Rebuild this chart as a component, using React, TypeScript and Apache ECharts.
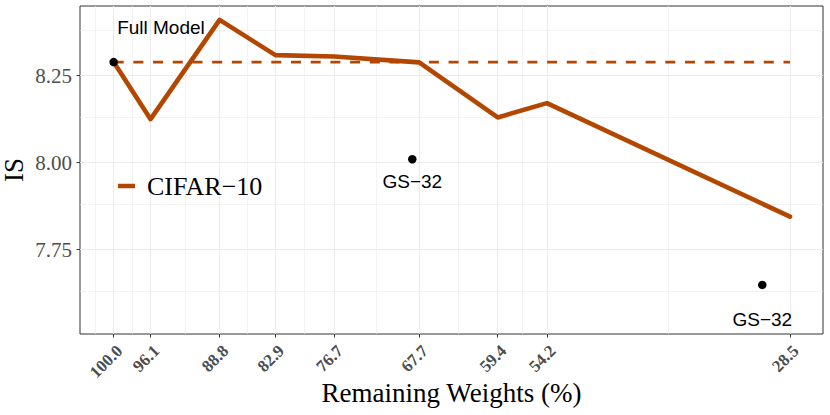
import React, { useEffect, useRef } from "react";
import * as echarts from "echarts";

const remainingWeights = [100, 96.1, 88.8, 82.9, 76.7, 67.7, 59.4, 54.2, 28.5];
const isScores = [8.289, 8.125, 8.41, 8.309, 8.305, 8.288, 8.13, 8.171, 7.845];
const fullModelIS = 8.289;

const markerX = [100, 68.43, 31.43];
const markerY = [8.289, 8.01, 7.649];

const annotationText = ["Full Model", "GS\u221232", "GS\u221232"];
const annotationX = [95.0, 68.43, 31.43];
const annotationY = [8.3885, 7.947, 7.549];

const xTicks = [100, 96.1, 88.8, 82.9, 76.7, 67.7, 59.4, 54.2, 28.5];
const yTicks = [7.75, 8.0, 8.25];
const xMinor = [101.95, 98.05, 92.45, 85.85, 79.8, 72.2, 63.55, 56.8, 41.35];
const yMinor = [7.625, 7.875, 8.125, 8.375];

const seriesName = "CIFAR\u221210";
const LINE_COLOR = "#B34700";
const SERIF = "'Liberation Serif', 'Times New Roman', serif";
const SANS = "'Liberation Sans', Arial, sans-serif";

export default function App() {
  const ref = useRef<HTMLDivElement>(null);

  useEffect(() => {
    document.body.style.margin = "0";
    if (!ref.current) return;
    const chart = echarts.init(ref.current, null, { renderer: "svg" });

    const gridMajor = { color: "#EBEBEB", width: 1.1, type: "solid" };
    const gridMinor = { color: "#EBEBEB", width: 0.6, type: "solid" };

    const markLineData: any[] = [
      ...xMinor.map((v) => ({ xAxis: v, lineStyle: gridMinor })),
      ...yMinor.map((v) => ({ yAxis: v, lineStyle: gridMinor })),
      ...xTicks.map((v) => ({ xAxis: v, lineStyle: gridMajor })),
      ...yTicks.map((v) => ({ yAxis: v, lineStyle: gridMajor })),
    ];

    chart.setOption({
      animation: false,
      backgroundColor: "#FFFFFF",
      grid: {
        left: 80,
        right: 7,
        top: 6,
        bottom: 81,
        show: true,
        containLabel: false,
        outerBoundsMode: "none",
        borderColor: "#333333",
        borderWidth: 1,
        backgroundColor: "transparent",
      },
      legend: {
        show: true,
        left: 118,
        top: 173,
        padding: 0,
        selectedMode: false,
        icon: "rect",
        itemWidth: 17,
        itemHeight: 4.5,
        data: [seriesName],
        textStyle: {
          fontFamily: SERIF,
          fontSize: 26,
          color: "#000000",
          padding: [0, 0, 0, 7],
        },
      },
      xAxis: {
        type: "value",
        min: 25.01,
        max: 103.56,
        inverse: true,
        name: "Remaining Weights (%)",
        nameLocation: "middle",
        nameGap: 45,
        nameMoveOverlap: false,
        nameTextStyle: { fontFamily: SERIF, fontSize: 27, color: "#000000" },
        axisLine: { show: false },
        splitLine: { show: false },
        axisTick: {
          show: true,
          customValues: xTicks,
          length: 3.5,
          lineStyle: { color: "#333333", width: 1 },
        },
        axisLabel: {
          show: true,
          customValues: xTicks,
          rotate: 45,
          align: "right",
          verticalAlign: "top",
          margin: 8,
          formatter: (v: number) => v.toFixed(1),
          fontFamily: SERIF,
          fontWeight: "bold",
          fontSize: 17,
          color: "#4D4D4D",
        },
      },
      yAxis: {
        type: "value",
        min: 7.508,
        max: 8.45,
        name: "IS",
        nameLocation: "middle",
        nameGap: 53,
        nameMoveOverlap: false,
        nameTextStyle: { fontFamily: SERIF, fontSize: 27, color: "#000000" },
        axisLine: { show: false },
        splitLine: { show: false },
        axisTick: {
          show: true,
          customValues: yTicks,
          length: 3.5,
          lineStyle: { color: "#333333", width: 1 },
        },
        axisLabel: {
          show: true,
          customValues: yTicks,
          margin: 8,
          formatter: (v: number) => v.toFixed(2),
          fontFamily: SERIF,
          fontSize: 21,
          color: "#4D4D4D",
        },
      },
      series: [
        {
          name: "grid",
          type: "line",
          data: [],
          z: 1,
          silent: true,
          markLine: {
            silent: true,
            z: 1,
            symbol: ["none", "none"],
            label: { show: false },
            animation: false,
            data: markLineData,
          },
        },
        {
          name: seriesName,
          type: "line",
          z: 3,
          data: remainingWeights
            .filter((_, i) => i === 0 || i === remainingWeights.length - 1)
            .map((x) => [x, fullModelIS]),
          showSymbol: false,
          symbol: "none",
          color: LINE_COLOR,
          lineStyle: { color: LINE_COLOR, width: 2.7, type: [10, 9.7] },
        },
        {
          name: seriesName,
          type: "line",
          z: 4,
          data: remainingWeights.map((x, i) => [x, isScores[i]]),
          showSymbol: false,
          symbol: "none",
          color: LINE_COLOR,
          lineStyle: { color: LINE_COLOR, width: 4.6, join: "round", cap: "round" },
        },
        {
          name: "markers",
          type: "scatter",
          z: 5,
          data: markerX.map((x, i) => [x, markerY[i]]),
          symbol: "circle",
          symbolSize: 8.5,
          itemStyle: { color: "#000000", opacity: 1 },
        },
        {
          name: "annotations",
          type: "scatter",
          z: 6,
          data: annotationX.map((x, i) => ({ value: [x, annotationY[i]], label: { formatter: annotationText[i] } })),
          symbolSize: 0,
          itemStyle: { color: "#000000", opacity: 1 },
          label: {
            show: true,
            position: "inside",
            fontFamily: SANS,
            fontSize: 19,
            color: "#000000",
            opacity: 1,
          },
        },
      ],
    });

    return () => {
      chart.dispose();
    };
  }, []);

  return <div ref={ref} style={{ width: 830, height: 415 }} />;
}
